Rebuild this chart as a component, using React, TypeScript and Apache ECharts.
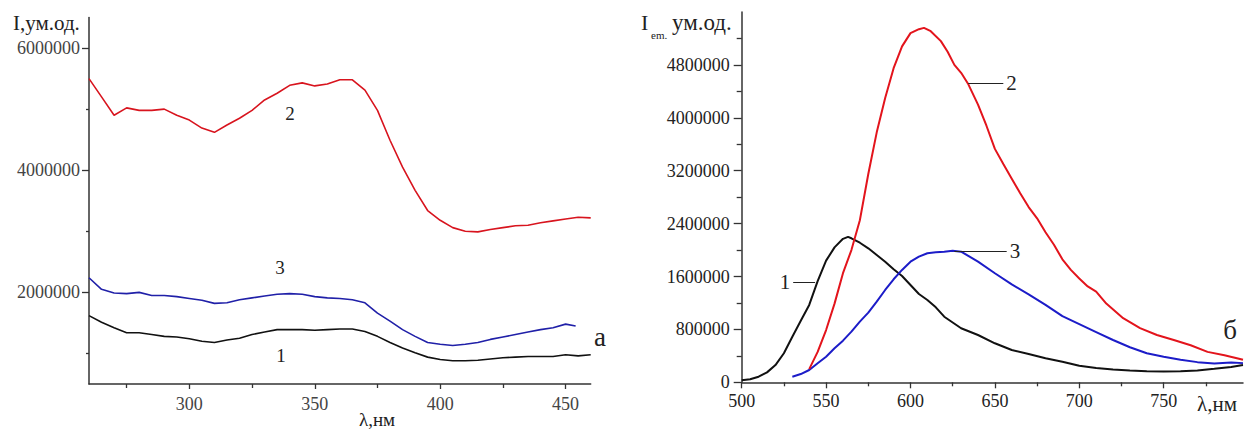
import React, { useEffect, useRef } from "react";
import * as echarts from "echarts";

// ---------- Panel а (left) ----------
const leftWl = [260, 265, 270, 275, 280, 285, 290, 295, 300, 305, 310, 315, 320, 325, 330, 335, 340, 345, 350, 355, 360, 365, 370, 375, 380, 385, 390, 395, 400, 405, 410, 415, 420, 425, 430, 435, 440, 445, 450, 455, 460];
const leftRed = [5500000, 5200000, 4900000, 5020000, 4980000, 4980000, 5000000, 4900000, 4820000, 4690000, 4620000, 4740000, 4850000, 4980000, 5150000, 5260000, 5390000, 5430000, 5380000, 5410000, 5480000, 5480000, 5310000, 4980000, 4490000, 4050000, 3670000, 3340000, 3180000, 3060000, 3000000, 2990000, 3030000, 3060000, 3090000, 3100000, 3140000, 3170000, 3200000, 3230000, 3220000];
const leftBlack = [1620000, 1510000, 1420000, 1340000, 1340000, 1310000, 1280000, 1270000, 1240000, 1200000, 1180000, 1220000, 1250000, 1310000, 1350000, 1390000, 1390000, 1390000, 1380000, 1390000, 1400000, 1400000, 1360000, 1280000, 1180000, 1090000, 1010000, 940000, 900000, 880000, 880000, 890000, 910000, 930000, 940000, 950000, 950000, 950000, 980000, 960000, 980000];
const leftBlueWl = [260, 265, 270, 275, 280, 285, 290, 295, 300, 305, 310, 315, 320, 325, 330, 335, 340, 345, 350, 355, 360, 365, 370, 375, 380, 385, 390, 395, 400, 405, 410, 415, 420, 425, 430, 435, 440, 445, 450, 454];
const leftBlue = [2240000, 2050000, 1990000, 1980000, 2000000, 1950000, 1950000, 1930000, 1900000, 1870000, 1820000, 1830000, 1880000, 1910000, 1940000, 1970000, 1980000, 1970000, 1930000, 1910000, 1900000, 1880000, 1830000, 1660000, 1530000, 1390000, 1280000, 1180000, 1150000, 1130000, 1150000, 1180000, 1230000, 1270000, 1310000, 1350000, 1390000, 1420000, 1480000, 1450000];

const leftXMajor = [300, 350, 400, 450];
const leftXMinor = [275, 325, 375, 425];
const leftYMajor = [2000000, 4000000, 6000000];
const leftYMinor = [1000000, 3000000, 5000000];

// ---------- Panel б (right) ----------
const rBlackWl = [500, 505, 510, 515, 520, 525, 530, 535, 540, 545, 550, 555, 560, 563, 565, 570, 575, 580, 585, 590, 595, 600, 605, 610, 615, 620, 630, 640, 650, 660, 670, 680, 690, 700, 710, 720, 730, 740, 750, 760, 770, 780, 790, 797];
const rBlack = [30000, 45000, 85000, 150000, 260000, 440000, 690000, 930000, 1170000, 1530000, 1840000, 2040000, 2170000, 2200000, 2178000, 2111000, 2026000, 1925000, 1824000, 1709000, 1608000, 1472000, 1336000, 1245000, 1134000, 992000, 817000, 715000, 590000, 488000, 428000, 363000, 312000, 250000, 215000, 192000, 178000, 168000, 162000, 168000, 180000, 205000, 232000, 260000];
const rRedWl = [540, 545, 550, 555, 560, 565, 570, 575, 580, 585, 590, 595, 600, 605, 608, 612, 618, 622, 626, 630, 634, 640, 645, 650, 655, 660, 665, 670, 675, 680, 685, 690, 695, 700, 705, 710, 716, 726, 736, 746, 756, 766, 776, 786, 794, 797];
const rRed = [200000, 460000, 790000, 1190000, 1650000, 2000000, 2450000, 3150000, 3780000, 4300000, 4750000, 5080000, 5280000, 5340000, 5360000, 5310000, 5160000, 5000000, 4800000, 4680000, 4520000, 4200000, 3880000, 3530000, 3300000, 3080000, 2860000, 2650000, 2480000, 2270000, 2080000, 1860000, 1700000, 1570000, 1450000, 1370000, 1190000, 970000, 820000, 715000, 640000, 560000, 460000, 410000, 360000, 340000];
const rBlueWl = [530, 535, 540, 545, 550, 555, 560, 565, 570, 575, 580, 585, 590, 595, 600, 605, 610, 615, 620, 625, 630, 635, 640, 650, 660, 670, 680, 690, 700, 710, 720, 730, 740, 750, 760, 770, 780, 790, 797];
const rBlue = [85000, 125000, 186000, 287000, 387000, 514000, 630000, 766000, 917000, 1053000, 1219000, 1396000, 1558000, 1699000, 1824000, 1900000, 1951000, 1965000, 1976000, 1990000, 1975000, 1900000, 1824000, 1649000, 1480000, 1330000, 1170000, 1000000, 880000, 760000, 640000, 530000, 440000, 385000, 340000, 305000, 285000, 300000, 290000];

const rightXMajor = [500, 550, 600, 650, 700, 750];
const rightXMinor = [525, 575, 625, 675, 725, 775];
const rightYMajor = [0, 800000, 1600000, 2400000, 3200000, 4000000, 4800000];
const rightYMinor = [400000, 1200000, 2000000, 2800000, 3600000, 4400000, 5200000];

const RED = "#e3141c";
const BLUE = "#1c1cc8";
const BLACK = "#111111";
const SERIF = "Liberation Serif";
const AXIS = "#333333";

const zip = (xs: number[], ys: number[]) => xs.map((x, i) => [x, ys[i]]);

function majorAxis(kind: "x" | "y", grid: number, min: number, max: number, ticks: number[], len: number, margin: number, color: string) {
  return {
    type: "value",
    gridIndex: grid,
    min,
    max,
    position: kind === "x" ? "bottom" : "left",
    axisLine: { show: true, lineStyle: { color: AXIS, width: 1.5 } },
    axisTick: { show: true, inside: false, length: len, customValues: ticks, lineStyle: { color: AXIS, width: 1.3 } },
    axisLabel: {
      show: true,
      customValues: ticks,
      formatter: (v: number) => String(v),
      margin,
      fontSize: 18,
      fontFamily: SERIF,
      color,
    },
    splitLine: { show: false },
  };
}

function minorAxis(kind: "x" | "y", grid: number, min: number, max: number, ticks: number[], len: number) {
  return {
    type: "value",
    gridIndex: grid,
    min,
    max,
    position: kind === "x" ? "bottom" : "left",
    axisLine: { show: false },
    axisTick: { show: true, inside: false, length: len, customValues: ticks, lineStyle: { color: AXIS, width: 1.3 } },
    axisLabel: { show: false },
    splitLine: { show: false },
  };
}

const leader = (x1: number, x2: number, y: number, text: string) => ({
  silent: true,
  symbol: ["none", "none"],
  lineStyle: { color: "#222", width: 1, type: "solid" },
  label: { show: true, position: "end", formatter: text, fontSize: 21, fontFamily: SERIF, color: "#222", distance: 3 },
  emphasis: { disabled: true },
  data: [[{ coord: [x1, y] }, { coord: [x2, y] }]],
});

const txt = (x: number, y: number, text: string, size: number, align = "center") => ({
  type: "text",
  x,
  y,
  silent: true,
  style: { text, fontSize: size, fontFamily: SERIF, fill: "#222", align, verticalAlign: "middle" },
});

export default function App() {
  const ref = useRef<HTMLDivElement>(null);
  useEffect(() => {
    if (!ref.current) return;
    const chart = echarts.init(ref.current, undefined, { renderer: "svg" });
    const line = (name: string, data: number[][], color: string, xi: number, yi: number, width: number, extra: any = {}) => ({
      name,
      type: "line",
      xAxisIndex: xi,
      yAxisIndex: yi,
      data,
      showSymbol: false,
      symbol: "none",
      lineStyle: { color, width },
      itemStyle: { color },
      z: 3,
      ...extra,
    });
    chart.setOption({
      animation: false,
      backgroundColor: "#ffffff",
      textStyle: { fontFamily: SERIF },
      grid: [
        { left: 89, top: 17.5, width: 501.7, height: 366.5 },
        { left: 741.7, top: 12, width: 501.3, height: 370.3 },
      ],
      xAxis: [
        majorAxis("x", 0, 260, 460, leftXMajor, 5, 11, "#444"),
        minorAxis("x", 0, 260, 460, leftXMinor, 4),
        majorAxis("x", 1, 500, 797, rightXMajor, 6, 10, "#222"),
        minorAxis("x", 1, 500, 797, rightXMinor, 4),
      ],
      yAxis: [
        majorAxis("y", 0, 500000, 6500000, leftYMajor, 7, 9, "#444"),
        minorAxis("y", 0, 500000, 6500000, leftYMinor, 3),
        majorAxis("y", 1, 0, 5600000, rightYMajor, 8, 12, "#222"),
        minorAxis("y", 1, 0, 5600000, rightYMinor, 5),
      ],
      series: [
        line("а2", zip(leftWl, leftRed), "#d8141e", 0, 0, 1.6),
        line("а3", zip(leftBlueWl, leftBlue), "#2020a8", 0, 0, 1.6),
        line("а1", zip(leftWl, leftBlack), BLACK, 0, 0, 1.6),
        line("б1", zip(rBlackWl, rBlack), BLACK, 2, 2, 2, { markLine: leader(543.5, 530.5, 1520000, "1") }),
        line("б3", zip(rBlueWl, rBlue), BLUE, 2, 2, 2, { markLine: leader(626, 657, 1986000, "3") }),
        line("б2", zip(rRedWl, rRed), RED, 2, 2, 2, { markLine: leader(634.2, 655, 4530000, "2") }),
      ],
      graphic: [
        txt(13, 23, "I,ум.од.", 21, "left"),
        txt(377, 419, "λ,нм", 19),
        txt(290, 113, "2", 19),
        txt(280, 267, "3", 19),
        txt(281, 355, "1", 19),
        txt(600, 337, "а", 27),
        txt(641, 22, "I", 22, "left"),
        txt(651, 35, "em.", 11, "left"),
        txt(672, 22, "ум.од.", 23, "left"),
        txt(1197, 404, "λ,нм", 21, "left"),
        txt(1230, 330, "б", 27),
      ],
    });
    return () => chart.dispose();
  }, []);
  return (
    <div
      ref={ref}
      style={{ position: "fixed", left: 0, top: 0, width: 1244, height: 432, background: "#fff" }}
    />
  );
}
